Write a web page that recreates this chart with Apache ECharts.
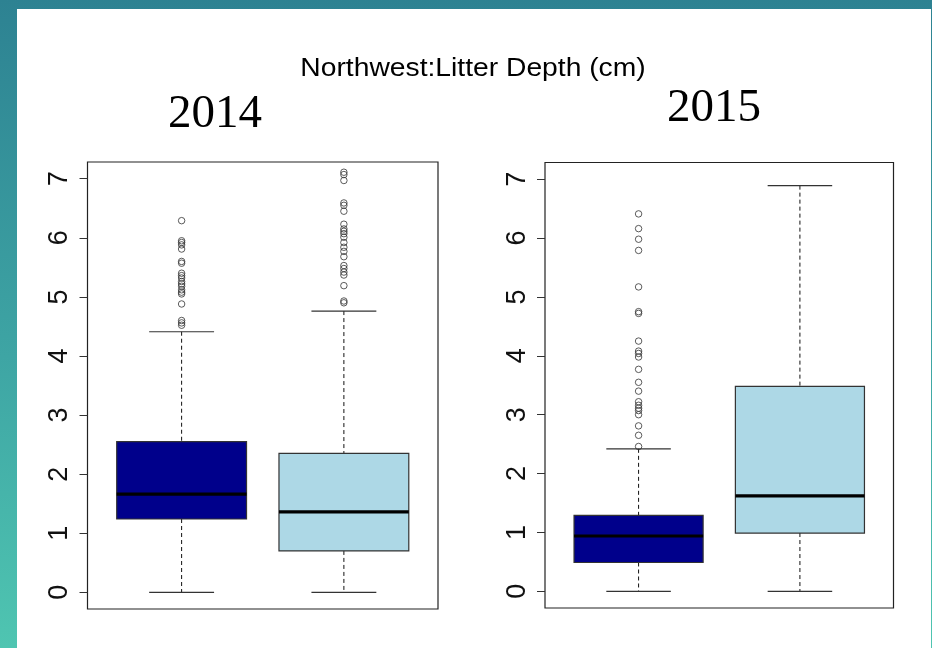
<!DOCTYPE html>
<html>
<head>
<meta charset="utf-8">
<script src="https://cdn.jsdelivr.net/npm/echarts@6/dist/echarts.min.js"></script>
<style>
  html, body { margin: 0; padding: 0; }
  #wrap { position: relative; width: 932px; height: 648px; overflow: hidden;
          background: linear-gradient(to bottom, #2d8292 0%, #3ea5a4 55%, #4fc5b1 100%); }
  #sheet { position: absolute; left: 17px; top: 9px; width: 914px; height: 639px; background: #ffffff; }
  #chart { position: absolute; left: 0; top: 0; width: 932px; height: 648px; }
</style>
</head>
<body>
<div id="wrap">
  <div id="sheet"></div>
  <div id="chart"></div>
</div>
<script>
// Panel headings
const mainTitle = 'Northwest:Litter Depth (cm)';
const years = ['2014', '2015'];

// Boxes per year, drawn at x = 1 and x = 2
const boxPositions = [1, 2];
const boxColors = ['#00008b', '#add8e6'];

// Five-number summaries: [lower whisker, Q1, median, Q3, upper whisker]
const stats2014 = [
  [0, 1.24, 1.66, 2.55, 4.41],
  [0, 0.70, 1.36, 2.35, 4.76]
];
const stats2015 = [
  [0, 0.49, 0.94, 1.29, 2.42],
  [0, 0.99, 1.62, 3.48, 6.89]
];

// Points beyond the whiskers
const outliers2014A = [6.29, 5.95, 5.92, 5.88, 5.81, 5.60, 5.57, 5.40, 5.36, 5.32,
                       5.26, 5.22, 5.18, 5.12, 5.08, 5.05, 4.88, 4.60, 4.56, 4.52];
const outliers2014B = [7.11, 7.07, 6.97, 6.59, 6.55, 6.45, 6.23, 6.15, 6.11, 6.07,
                       6.01, 5.92, 5.84, 5.77, 5.68, 5.53, 5.48, 5.42, 5.37, 5.19,
                       4.93, 4.90];
const outliers2015A = [6.41, 6.16, 5.98, 5.79, 5.17, 4.75, 4.72, 4.25, 4.08, 4.04,
                       3.98, 3.77, 3.55, 3.40, 3.22, 3.16, 3.11, 3.07, 3.00, 2.81,
                       2.65, 2.46];
const outliers2015B = [];

// Y axis tick labels
const yTicks = [0, 1, 2, 3, 4, 5, 6, 7];

const chart = echarts.init(document.getElementById('chart'), null, { renderer: 'canvas' });

function boxRows(stats) {
  return stats.map((s, i) => [boxPositions[i], s[0], s[1], s[2], s[3], s[4], i]);
}
function outlierRows(listA, listB) {
  const rows = [];
  listA.forEach(v => rows.push([boxPositions[0], v]));
  listB.forEach(v => rows.push([boxPositions[1], v]));
  return rows;
}

// Base-R style box: dashed whiskers, solid staples, outlined box, heavy median
function renderBox(params, api) {
  const x = api.value(0);
  const lo = api.value(1), q1 = api.value(2), med = api.value(3), q3 = api.value(4), hi = api.value(5);
  const idx = api.value(6);
  const halfBox = 0.4, halfStaple = 0.2;
  const p = (xx, yy) => api.coord([xx, yy]);
  const cLo = p(x, lo), cQ1 = p(x, q1), cQ3 = p(x, q3), cHi = p(x, hi);
  const l = p(x - halfBox, q3), r = p(x + halfBox, q1);
  const sL = p(x - halfStaple, 0)[0], sR = p(x + halfStaple, 0)[0];
  const mL = p(x - halfBox, med), mR = p(x + halfBox, med);
  const dash = { stroke: '#111', lineWidth: 1, lineDash: [4, 3] };
  const solid = { stroke: '#333', lineWidth: 1.2 };
  return {
    type: 'group',
    children: [
      { type: 'line', shape: { x1: cHi[0], y1: cHi[1], x2: cQ3[0], y2: cQ3[1] }, style: dash },
      { type: 'line', shape: { x1: cQ1[0], y1: cQ1[1], x2: cLo[0], y2: cLo[1] }, style: dash },
      { type: 'line', shape: { x1: sL, y1: cHi[1], x2: sR, y2: cHi[1] }, style: solid },
      { type: 'line', shape: { x1: sL, y1: cLo[1], x2: sR, y2: cLo[1] }, style: solid },
      { type: 'rect', shape: { x: l[0], y: l[1], width: r[0] - l[0], height: r[1] - l[1] },
        style: { fill: boxColors[idx], stroke: '#333', lineWidth: 1.2 } },
      { type: 'line', shape: { x1: mL[0], y1: mL[1], x2: mR[0], y2: mR[1] },
        style: { stroke: '#000', lineWidth: 3.2 } }
    ]
  };
}

const grids = [
  { left: 87.5, top: 162, width: 350.5, height: 447 },
  { left: 545, top: 162.5, width: 348.5, height: 445.5 }
];

function xAxisFor(i) {
  return { gridIndex: i, type: 'value', min: 0.42, max: 2.58, show: false };
}
function yAxisFor(i) {
  return {
    gridIndex: i, type: 'value', min: -0.283, max: 7.283,
    splitLine: { show: false },
    axisLine: { show: false },
    axisTick: { show: true, length: 8, customValues: yTicks, lineStyle: { color: '#333', width: 1 } },
    axisLabel: {
      customValues: yTicks, rotate: 90, margin: 14,
      fontFamily: 'Liberation Sans, Arial, sans-serif', fontSize: 27, color: '#111'
    }
  };
}

const outlierStyle = {
  type: 'scatter', symbol: 'circle', symbolSize: 6.5,
  itemStyle: { color: 'rgba(0,0,0,0)', borderColor: '#333', borderWidth: 1 },
  silent: true, z: 5
};

chart.setOption({
  animation: false,
  backgroundColor: 'transparent',
  grid: grids.map(g => Object.assign({ show: true, borderColor: '#222', borderWidth: 1.2,
                                        backgroundColor: 'transparent' }, g)),
  xAxis: [xAxisFor(0), xAxisFor(1)],
  yAxis: [yAxisFor(0), yAxisFor(1)],
  series: [
    { type: 'custom', xAxisIndex: 0, yAxisIndex: 0, renderItem: renderBox,
      data: boxRows(stats2014), encode: { x: 0, y: [1, 2, 3, 4, 5] } },
    { type: 'custom', xAxisIndex: 1, yAxisIndex: 1, renderItem: renderBox,
      data: boxRows(stats2015), encode: { x: 0, y: [1, 2, 3, 4, 5] } },
    Object.assign({ xAxisIndex: 0, yAxisIndex: 0, data: outlierRows(outliers2014A, outliers2014B) }, outlierStyle),
    Object.assign({ xAxisIndex: 1, yAxisIndex: 1, data: outlierRows(outliers2015A, outliers2015B) }, outlierStyle)
  ],
  graphic: [
    { type: 'text', x: 473, y: 69, scaleX: 1.13,
      style: { text: mainTitle, font: '25px "Liberation Sans", Arial, sans-serif',
               fill: '#000', align: 'center', verticalAlign: 'middle' } },
    { type: 'text', x: 215, y: 115,
      style: { text: years[0], font: '47px "Liberation Serif", "Times New Roman", serif',
               fill: '#000', align: 'center', verticalAlign: 'middle' } },
    { type: 'text', x: 714, y: 109,
      style: { text: years[1], font: '47px "Liberation Serif", "Times New Roman", serif',
               fill: '#000', align: 'center', verticalAlign: 'middle' } }
  ]
});
</script>
</body>
</html>
